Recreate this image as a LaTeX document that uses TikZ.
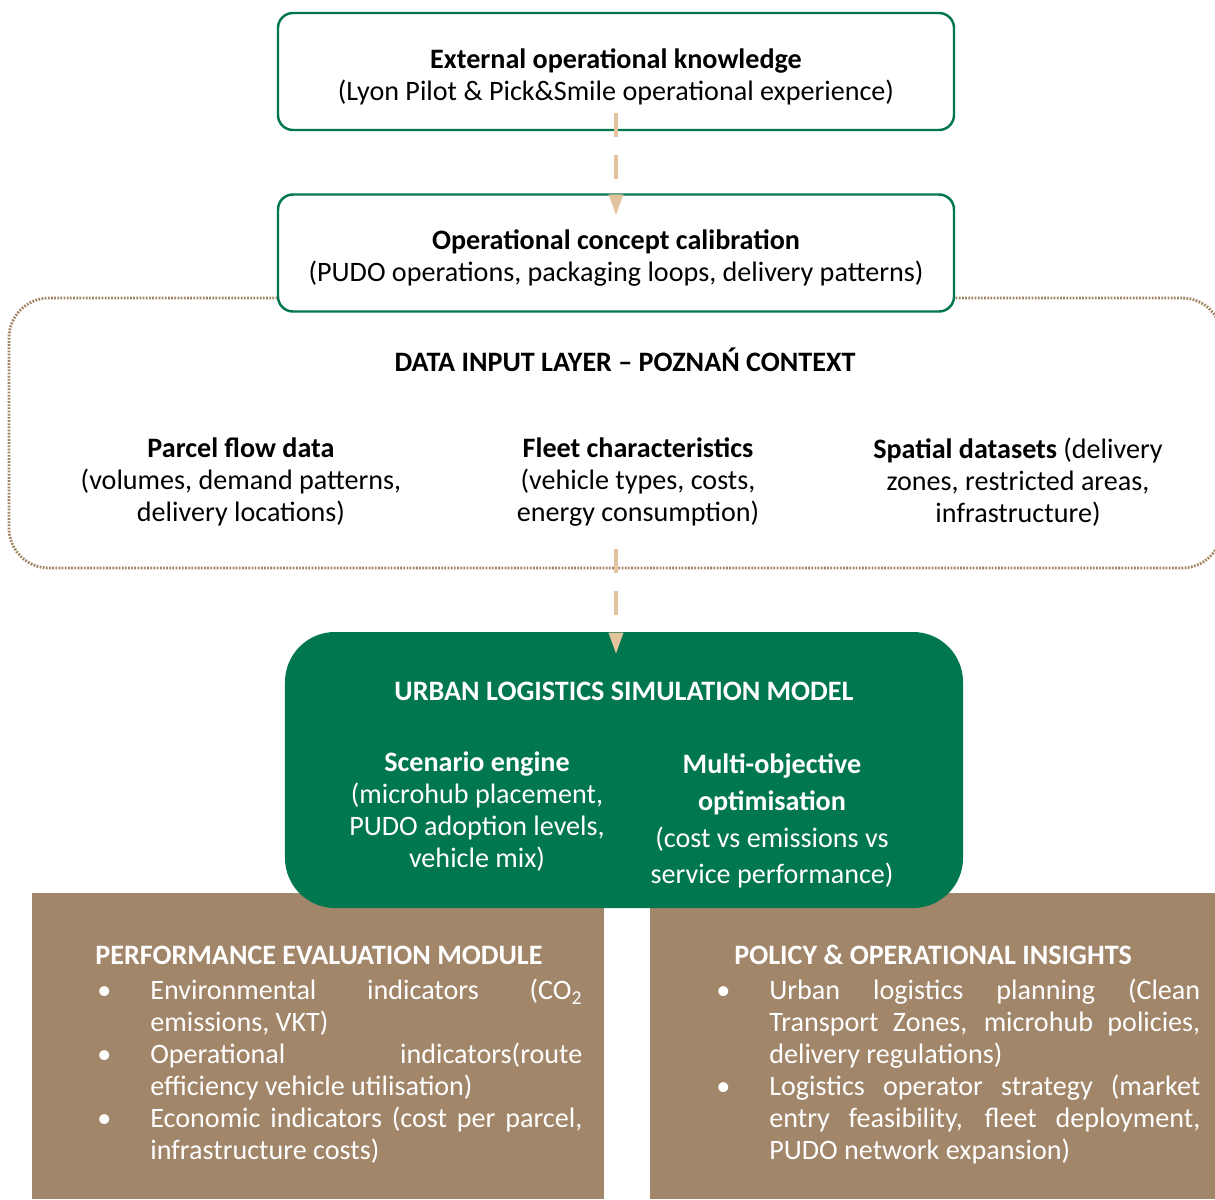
\documentclass[tikz,border=0pt]{standalone}
\usepackage{fontspec}
\setmainfont{Carlito}
\usetikzlibrary{arrows.meta}
\definecolor{simgreen}{HTML}{00774F}
\definecolor{flowtan}{HTML}{E3C49F}
\definecolor{evalbrown}{HTML}{A2866A}
\definecolor{layerbrown}{HTML}{A08462}
\newcommand{\bulletitem}{\noindent\llap{\textbullet\hspace{0.78cm}}}
\newcommand{\topstrut}{\rule{0pt}{17pt}}

\begin{document}
\begin{tikzpicture}[scale=0.2,
  every node/.style={font=\fontsize{16}{18.2}\selectfont, inner sep=0pt},
  knowbox/.style={draw=simgreen, line width=1.4pt, rounded corners=0.3cm, fill=white, minimum width=13.52cm, minimum height=2.34cm, align=center},
  layerbox/.style={draw=layerbrown, line width=1.6pt, dash pattern=on 1pt off 0.8pt, rounded corners=0.8cm, minimum width=24.26cm, minimum height=5.4cm},
  simbox/.style={fill=simgreen, rounded corners=1cm, minimum width=13.56cm, minimum height=5.52cm},
  evalbox/.style={fill=evalbrown, minimum height=6.12cm},
  flow/.style={draw=flowtan, line width=2.8pt, dash pattern=on 13.7pt off 10.2pt, -{Triangle[width=7.6pt,length=12.5pt]}},
  colhead/.style={align=center},
  boxhead/.style={text=white, font=\fontsize{16}{18.2}\selectfont\bfseries, anchor=west},
  listtxt/.style={text=white, align=justify, anchor=north west}]
\useasboundingbox (0,0) rectangle (121.5,-119.9);
\node [layerbox] (datalayer) at (61.55,-43.3) {};
\node [knowbox] (ext) at (61.6,-7.15) {\topstrut\textbf{External operational knowledge}\\(Lyon Pilot \& Pick\&Smile operational experience)};
\node [knowbox] (calib) at (61.6,-25.3) {\topstrut\textbf{Operational concept calibration}\\(PUDO operations, packaging loops, delivery patterns)};
\draw [flow] ([yshift=1.8cm]ext.south) -- ([yshift=-2.3cm]calib.north);
\node [font=\fontsize{16}{18.2}\selectfont\bfseries] (layerhead) at (62.5,-36.0) {DATA INPUT LAYER – POZNAŃ CONTEXT};
\node [colhead] (parcel) at (24.1,-48.2) {\textbf{Parcel flow data}\\(volumes, demand patterns,\\delivery locations)};
\node [colhead] (fleet) at (63.8,-48.2) {\textbf{Fleet characteristics}\\(vehicle types, costs,\\energy consumption)};
\node [colhead] (spatial) at (101.8,-48.2) {\textbf{Spatial datasets} (delivery\\zones, restricted areas,\\infrastructure)};
\node [evalbox, minimum width=11.44cm] (perf) at (31.8,-104.6) {};
\node [evalbox, minimum width=11.3cm] (policy) at (93.25,-104.6) {};
\node [simbox] (sim) at (62.4,-77.0) {};
\draw [flow] ([yshift=2cm]datalayer.south -| ext.south) -- ([yshift=-2.3cm]sim.north -| ext.south);
\node [text=white, font=\fontsize{16}{18.2}\selectfont\bfseries] (simhead) at (62.4,-69.1) {URBAN LOGISTICS SIMULATION MODEL};
\node [colhead, text=white] (scenario) at (47.7,-81.2) {\textbf{Scenario engine}\\(microhub placement,\\PUDO adoption levels,\\vehicle mix)};
\node [colhead, text=white, font=\fontsize{16}{21}\selectfont] (multiobj) at (77.2,-82.1) {\textbf{Multi-objective}\\\textbf{optimisation}\\(cost vs emissions vs\\service performance)};
\node [boxhead] (perfhead) at (9.5,-95.5) {PERFORMANCE EVALUATION MODULE};
\node [listtxt, text width=8.64cm] (perflist) at (15.0,-97.9) {\bulletitem Environmental indicators (CO\textsubscript{2}\linebreak emissions, VKT)\par
\bulletitem Operational indicators(route\linebreak efficiency vehicle utilisation)\par
\bulletitem Economic indicators (cost per parcel,\linebreak infrastructure costs)};
\node [boxhead] (policyhead) at (73.4,-95.5) {POLICY \& OPERATIONAL INSIGHTS};
\node [listtxt, text width=8.62cm] (policylist) at (76.9,-97.9) {\bulletitem Urban logistics planning (Clean\linebreak Transport Zones, microhub policies,\linebreak delivery regulations)\par
\bulletitem Logistics operator strategy (market\linebreak entry feasibility, fleet deployment,\linebreak PUDO network expansion)};
\end{tikzpicture}
\end{document}
